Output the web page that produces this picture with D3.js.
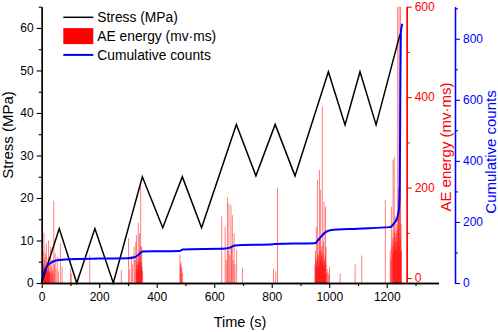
<!DOCTYPE html>
<html><head><meta charset="utf-8">
<script src="https://cdn.jsdelivr.net/npm/d3@7"></script>
<style>body{margin:0;background:#fff} svg text{font-family:"Liberation Sans",Arial,sans-serif}</style>
</head><body><svg id="c" width="498" height="332"></svg>
<script>
// ---- data ----
const stressTime   = [0, 61, 122, 185, 249, 350, 421, 489, 556, 677, 745, 812, 881, 997, 1055, 1107, 1163, 1246];
const stressValues = [0, 12.8, 0, 12.8, 0, 25, 13, 25, 13, 37.3, 25.2, 37.3, 25.2, 49.7, 37.2, 49.7, 37.2, 58.5];

const countTime   = [0, 5, 15, 30, 50, 80, 120, 200, 300, 325, 340, 350, 400, 480, 490, 640, 655, 672, 806, 815, 950, 965, 985, 1003, 1100, 1211, 1225, 1235, 1242, 1245, 1247, 1249, 1254];
const countValues = [0, 25, 50, 65, 74, 77, 79, 80, 81, 85, 95, 103, 104, 105, 110, 113, 116, 123, 127, 128, 130, 145, 165, 173, 178, 183, 195, 210, 240, 290, 600, 820, 849];

const aeTime = [1,2,3,4,5,6,7,8,9,10,11,12,13,14,15,16,17,18,19,20,21,22,23,24,25,26,27,28,29,31,33,35,36,38,40,42,44,47,50,54,58,65,71,100,103,167,277,
  302,306,312,316,321,324,327,329,330,331,332,333,334,335,336,337,338,339,340,341,342,343,344,345,346,347,348,349,351,
  481,482,484,485,487,490,
  626,638,642,646,648,651,654,658,660,663,666,669,672,678,698,
  806,814,820,
  950,952,953,954,955,956,957,958,959,960,961,962,963,964,965,966,967,968,969,970,971,972,973,974,975,976,977,978,979,980,981,982,983,984,985,986,987,988,989,991,993,996,999,1001,
  1038,1090,1113,1195,
  1212,1214,1216,1218,1219,1221,1222,1223,1224,1225,1226,1227,1228,1229,1230,1231,1232,1233,1234,1235,1236,1237,1238,1239,1240,1241,1242,1243,1244,1245,1246,1247,1248,1249,1250,1251,1252,1253,1255];
const aeValues = [20,40,106,15,60,30,25,100,12,45,18,25,10,55,30,77,20,35,12,20,15,45,22,83,10,30,14,15,8,69,25,12,40,18,10,171,30,55,20,47,15,77,25,21,10,51,18,
  88,20,49,30,69,40,80,20,95,35,45,15,30,25,122,40,60,30,99,20,50,35,213,70,35,25,69,25,15,
  51,30,35,20,25,11,
  136,113,40,178,60,165,50,161,70,139,40,99,30,62,23,
  20,15,200,30,60,45,25,113,35,40,20,217,50,80,30,50,40,25,239,60,90,45,195,35,60,50,70,40,380,30,55,45,80,25,169,35,40,20,50,158,30,69,11,20,
  12,8,25,10,
  30,50,173,60,40,158,70,90,55,261,80,70,106,268,60,100,136,90,80,70,99,60,120,106,80,650,90,150,200,110,650,70,300,180,90,650,60,120,60];

const xMajor = [0,200,400,600,800,1000,1200];
const xMinor = [100,300,500,700,900,1100,1300];
const stressMajor = [0,10,20,30,40,50,60];
const stressMinor = [5,15,25,35,45,55,65];
const aeMajor = [0,200,400,600];
const aeMinor = [100,300,500];
const countMajor = [0,200,400,600,800];
const countMinor = [100,300,500,700,900];

// ---- scales ----
const svg = d3.select("#c");
const plotTop = 6.7, plotBottom = 283;
const x = d3.scaleLinear().domain([0,1380]).range([41.7,438.5]);
const yS = d3.scaleLinear().domain([0,65]).range([plotBottom, plotTop]);
const yE = d3.scaleLinear().domain([-11,600]).range([plotBottom, plotTop]);
const yC = d3.scaleLinear().domain([0,905]).range([plotBottom, plotTop]);
const redAxisX = 406.7, blueAxisX = 455;

svg.append("defs").append("clipPath").attr("id","clip")
  .append("rect").attr("x",41.7).attr("y",plotTop).attr("width",400).attr("height",plotBottom-plotTop);

// bars
const aeData = aeTime.map((t,i)=>({t, v: aeValues[i]}));
svg.append("g").attr("clip-path","url(#clip)")
  .selectAll("rect").data(aeData).join("rect")
  .attr("x", d=>x(d.t)-0.5).attr("width",1)
  .attr("y", d=>yE(d.v)).attr("height", d=>yE(-11)-yE(d.v))
  .attr("fill","#ff0000").attr("fill-opacity",0.5);

// stress line
const sData = stressTime.map((t,i)=>[t, stressValues[i]]);
svg.append("path").datum(sData)
  .attr("d", d3.line().x(d=>x(d[0])).y(d=>yS(d[1])))
  .attr("fill","none").attr("stroke","#000").attr("stroke-width",1.5).attr("stroke-linejoin","miter");

// cumulative counts line
const cData = countTime.map((t,i)=>[t, countValues[i]]);
svg.append("path").datum(cData)
  .attr("d", d3.line().curve(d3.curveMonotoneX).x(d=>x(d[0])).y(d=>yC(d[1])))
  .attr("fill","none").attr("stroke","#0000ff").attr("stroke-width",2);

// ---- axes ----
function styleAxis(g, color, fs){
  g.select(".domain").attr("stroke",color).attr("stroke-width",1.3);
  g.selectAll(".tick line").attr("stroke",color).attr("stroke-width",1.1);
  g.selectAll(".tick text").attr("fill",color).attr("font-size",fs).attr("font-family","Liberation Sans, Arial, sans-serif");
}
let g = svg.append("g").attr("transform",`translate(0,${plotBottom})`)
  .call(d3.axisBottom(x).tickValues(xMinor).tickSize(3).tickFormat("").tickSizeOuter(0));
styleAxis(g,"#000",12);
g = svg.append("g").attr("transform",`translate(0,${plotBottom})`)
  .call(d3.axisBottom(x).tickValues(xMajor).tickSize(5).tickPadding(4).tickFormat(d3.format("d")).tickSizeOuter(0));
styleAxis(g,"#000",12);
g = svg.append("g").attr("transform",`translate(41.7,0)`)
  .call(d3.axisLeft(yS).tickValues(stressMinor).tickSize(3).tickFormat("").tickSizeOuter(0));
styleAxis(g,"#000",12);
g = svg.append("g").attr("transform",`translate(41.7,0)`)
  .call(d3.axisLeft(yS).tickValues(stressMajor).tickSize(5).tickPadding(3).tickFormat(d3.format("d")).tickSizeOuter(0));
styleAxis(g,"#000",12);
g = svg.append("g").attr("transform",`translate(${redAxisX},0)`)
  .call(d3.axisRight(yE).tickValues(aeMinor).tickSize(3).tickFormat("").tickSizeOuter(0));
styleAxis(g,"#ff0000",12);
g = svg.append("g").attr("transform",`translate(${redAxisX},0)`)
  .call(d3.axisRight(yE).tickValues(aeMajor).tickSize(5).tickPadding(3).tickFormat(d3.format("d")).tickSizeOuter(0));
styleAxis(g,"#ff0000",12);
g = svg.append("g").attr("transform",`translate(${blueAxisX},0)`)
  .call(d3.axisRight(yC).tickValues(countMinor).tickSize(3).tickFormat("").tickSizeOuter(0));
styleAxis(g,"#0000ff",12);
g = svg.append("g").attr("transform",`translate(${blueAxisX},0)`)
  .call(d3.axisRight(yC).tickValues(countMajor).tickSize(5).tickPadding(3).tickFormat(d3.format("d")).tickSizeOuter(0));
styleAxis(g,"#0000ff",12);

// axis titles
svg.append("text").attr("x",240).attr("y",326.5).attr("text-anchor","middle")
  .attr("font-size",14.5).attr("fill","#000").text("Time (s)");
svg.append("text").attr("transform","translate(13,135) rotate(-90)").attr("text-anchor","middle")
  .attr("font-size",15).attr("fill","#000").text("Stress (MPa)");
svg.append("text").attr("transform","translate(451,147) rotate(-90)").attr("text-anchor","middle")
  .attr("font-size",15).attr("fill","#ff0000").text("AE energy (mv·ms)");
svg.append("text").attr("transform","translate(496,152) rotate(-90)").attr("text-anchor","middle")
  .attr("font-size",15).attr("fill","#0000ff").text("Cumulative counts");

// legend
const legend = svg.append("g");
const items = [
  {label:"Stress (MPa)", type:"line", color:"#000"},
  {label:"AE energy (mv·ms)", type:"rect", color:"#ff0000"},
  {label:"Cumulative counts", type:"line", color:"#0000ff"}
];
items.forEach((it,i)=>{
  const cy = 17.3 + i*18.8;
  if(it.type==="line"){
    legend.append("line").attr("x1",63.3).attr("x2",93.3).attr("y1",cy).attr("y2",cy)
      .attr("stroke",it.color).attr("stroke-width", i===0?1.5:2);
  } else {
    legend.append("rect").attr("x",63.3).attr("y",cy-8).attr("width",30).attr("height",16).attr("fill",it.color);
  }
  legend.append("text").attr("x",97.3).attr("y",cy+5).attr("font-size",13.8).attr("fill","#000").text(it.label);
});
</script></body></html>
